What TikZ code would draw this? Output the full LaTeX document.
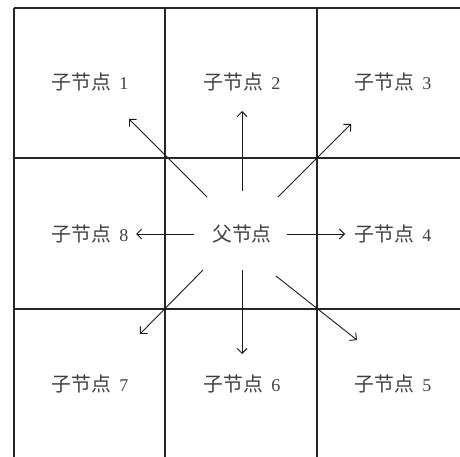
\documentclass[tikz,border=0pt]{standalone}
\usepackage{fontspec}
\usetikzlibrary{arrows.meta}
\setmainfont{Liberation Serif}
\newfontfamily\cjk{Noto Sans CJK SC}[Scale=1.1]
\newcommand{\zj}[1]{{\cjk 子节点}\hspace{0.45em}#1}
\begin{document}
\begin{tikzpicture}[x=1pt,y=-1pt,
  gridline/.style={line width=1.4pt,black!85},
  arr/.style={-{Straight Barb[length=5pt,width=10pt,line width=0.9pt]},line width=0.9pt,black!90},
  lab/.style={font=\fontsize{18}{20}\selectfont,inner sep=0pt,text=black!75}]
\useasboundingbox (0,0) rectangle (460,457);
% grid
\draw[gridline] (14,8) -- (460,8);
\draw[gridline] (14,158) -- (460,158);
\draw[gridline] (14,309) -- (460,309);
\draw[gridline] (14,8) -- (14,457);
\draw[gridline] (165,8) -- (165,457);
\draw[gridline] (317,8) -- (317,457);
% labels
\node[lab] (c1) at (90,82) {\zj{1}};
\node[lab] (c2) at (242,82) {\zj{2}};
\node[lab] (c3) at (393,82) {\zj{3}};
\node[lab] (c8) at (90,234) {\zj{8}};
\node[lab] (p)  at (242,234) {\cjk 父节点};
\node[lab] (c4) at (393,234) {\zj{4}};
\node[lab] (c7) at (90,384) {\zj{7}};
\node[lab] (c6) at (242,384) {\zj{6}};
\node[lab] (c5) at (393,384) {\zj{5}};
% arrow ends
\coordinate (t1) at (207,197); \coordinate (h1) at (129,119);
\coordinate (t2) at (242,191); \coordinate (h2) at (242,111);
\coordinate (t3) at (278,197); \coordinate (h3) at (351,124);
\coordinate (t8) at (194,234); \coordinate (h8) at (136,234);
\coordinate (t4) at (287,234); \coordinate (h4) at (345,234);
\coordinate (t7) at (203,270); \coordinate (h7) at (140,334);
\coordinate (t6) at (242,270); \coordinate (h6) at (242,354);
\coordinate (t5) at (276,276); \coordinate (h5) at (357,340);
\foreach \i in {1,...,8} \draw[arr] (t\i) -- (h\i);
\end{tikzpicture}
\end{document}
